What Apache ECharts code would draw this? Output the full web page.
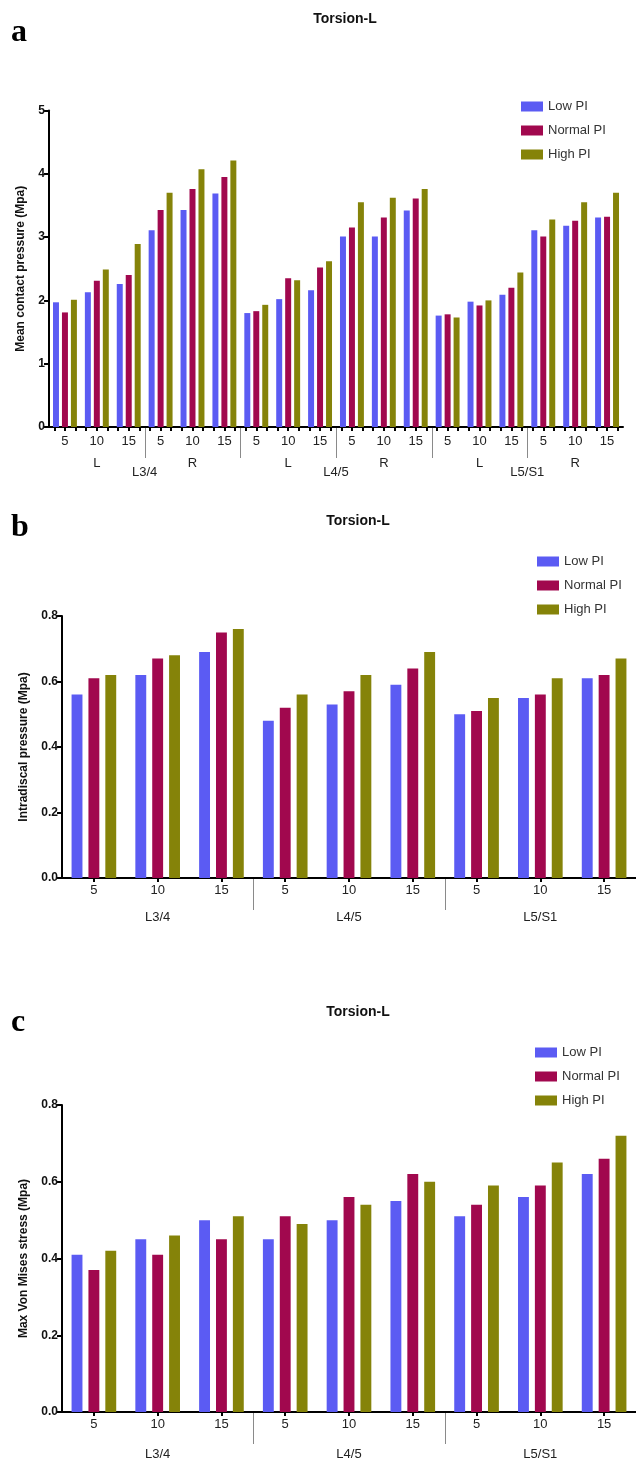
<!DOCTYPE html>
<html>
<head>
<meta charset="utf-8">
<script src="https://cdn.jsdelivr.net/npm/echarts@6/dist/echarts.min.js"></script>
<style>html,body{margin:0;padding:0;background:#fff}#c{width:636px;height:1466px}</style>
</head>
<body>
<div id="c"></div>
<script>
// ---------- data ----------
const levels = ['L3/4', 'L4/5', 'L5/S1'];
const sides = ['L', 'R'];
const angles = ['5', '10', '15'];
const seriesNames = ['Low PI', 'Normal PI', 'High PI'];
const panelTitle = 'Torsion-L';
const panelLetters = ['a', 'b', 'c'];
const yNames = ['Mean contact pressure (Mpa)', 'Intradiscal pressure (Mpa)', 'Max Von Mises stress (Mpa)'];

// panel a: 18 categories (level x side x angle)
const contactLow    = [1.97, 2.13, 2.26, 3.11, 3.43, 3.69, 1.80, 2.02, 2.16, 3.01, 3.01, 3.42, 1.76, 1.98, 2.09, 3.11, 3.18, 3.31];
const contactNormal = [1.81, 2.31, 2.40, 3.43, 3.76, 3.95, 1.83, 2.35, 2.52, 3.15, 3.31, 3.61, 1.78, 1.92, 2.20, 3.01, 3.26, 3.32];
const contactHigh   = [2.01, 2.49, 2.89, 3.70, 4.07, 4.21, 1.93, 2.32, 2.62, 3.55, 3.62, 3.76, 1.73, 2.00, 2.44, 3.28, 3.55, 3.70];

// panel b: 9 categories (level x angle)
const discLow    = [0.56, 0.62, 0.69, 0.48, 0.53, 0.59, 0.50, 0.55, 0.61];
const discNormal = [0.61, 0.67, 0.75, 0.52, 0.57, 0.64, 0.51, 0.56, 0.62];
const discHigh   = [0.62, 0.68, 0.76, 0.56, 0.62, 0.69, 0.55, 0.61, 0.67];

// panel c: 9 categories (level x angle)
const stressLow    = [0.41, 0.45, 0.50, 0.45, 0.50, 0.55, 0.51, 0.56, 0.62];
const stressNormal = [0.37, 0.41, 0.45, 0.51, 0.56, 0.62, 0.54, 0.59, 0.66];
const stressHigh   = [0.42, 0.46, 0.51, 0.49, 0.54, 0.60, 0.59, 0.65, 0.72];

// ---------- styles ----------
const colors = ['#5b5bf3', '#a1084e', '#858309'];
const SANS = '"Liberation Sans", Arial, sans-serif';
const SERIF = '"Liberation Serif", "Times New Roman", serif';

// ---------- categories built from structure ----------
const catA = [];
levels.forEach(l => sides.forEach(s => angles.forEach(a => catA.push(l + '|' + s + '|' + a))));
const sideCatA = [];
levels.forEach(l => sides.forEach(s => sideCatA.push(l + '|' + s)));
const barSlotsA = [];
catA.forEach(c => seriesNames.forEach(n => barSlotsA.push(c + '|' + n)));
const catBC = [];
levels.forEach(l => angles.forEach(a => catBC.push(l + '|' + a)));
const lastPart = v => v.split('|').pop();

const sepA = [];
for (let i = 1; i < sideCatA.length; i++) sepA.push([i * angles.length, 0]);
const sepBC = [];
for (let i = 1; i < levels.length; i++) sepBC.push([i * angles.length, 0]);

// ---------- layout ----------
const grids = [
  { left: 49, width: 574, top: 110.5, height: 316.5 },
  { left: 62, width: 574, top: 616, height: 262 },
  { left: 62, width: 574, top: 1105, height: 307 }
];
const titleY = [7, 509, 1000];
const letterY = [12, 507, 1002];
const legendPos = [
  { left: 516, top: 95 },
  { left: 532, top: 550 },
  { left: 530, top: 1041 }
];

const axisLineStyle = { color: '#000', width: 2 };

function hiddenAxisBase(gridIndex, data) {
  return {
    type: 'category', gridIndex, data, position: 'bottom',
    axisLine: { show: false }, axisTick: { show: false }, splitLine: { show: false }
  };
}

const xAxis = [
  // 0: panel a numbers
  {
    type: 'category', gridIndex: 0, data: catA, position: 'bottom',
    axisLine: { lineStyle: axisLineStyle },
    axisTick: { show: false },
    axisLabel: { formatter: lastPart, fontFamily: SANS, fontSize: 13, color: '#222', margin: 8, interval: 0 }
  },
  // 1: panel a sides
  Object.assign(hiddenAxisBase(0, sideCatA), {
    axisLabel: { formatter: lastPart, fontFamily: SANS, fontSize: 13, color: '#222', margin: 30, interval: 0 }
  }),
  // 2: panel a levels
  Object.assign(hiddenAxisBase(0, levels), {
    axisLabel: { fontFamily: SANS, fontSize: 13, color: '#222', margin: 39, interval: 0 }
  }),
  // 3: panel a per-bar ticks
  Object.assign(hiddenAxisBase(0, barSlotsA), {
    axisTick: { show: true, alignWithLabel: true, interval: 0, length: 4, lineStyle: { color: '#000', width: 2 } },
    axisLabel: { show: false }
  }),
  // 4: panel b numbers
  {
    type: 'category', gridIndex: 1, data: catBC, position: 'bottom',
    axisLine: { lineStyle: axisLineStyle },
    axisTick: { show: true, alignWithLabel: true, length: 4, lineStyle: { color: '#000', width: 2 } },
    axisLabel: { formatter: lastPart, fontFamily: SANS, fontSize: 13, color: '#222', margin: 6, interval: 0 }
  },
  // 5: panel b levels
  Object.assign(hiddenAxisBase(1, levels), {
    axisLabel: { fontFamily: SANS, fontSize: 13, color: '#222', margin: 33, interval: 0 }
  }),
  // 6: panel c numbers
  {
    type: 'category', gridIndex: 2, data: catBC, position: 'bottom',
    axisLine: { lineStyle: axisLineStyle },
    axisTick: { show: true, alignWithLabel: true, length: 4, lineStyle: { color: '#000', width: 2 } },
    axisLabel: { formatter: lastPart, fontFamily: SANS, fontSize: 13, color: '#222', margin: 6, interval: 0 }
  },
  // 7: panel c levels
  Object.assign(hiddenAxisBase(2, levels), {
    axisLabel: { fontFamily: SANS, fontSize: 13, color: '#222', margin: 36, interval: 0 }
  })
];

function yAxisDef(gridIndex, max, interval, name, nameGap, fmt) {
  return {
    type: 'value', gridIndex, min: 0, max, interval,
    name, nameLocation: 'middle', nameRotate: 90, nameGap,
    nameTextStyle: { fontFamily: SANS, fontSize: 12, fontWeight: 'bold', color: '#111' },
    axisLine: { show: true, lineStyle: axisLineStyle },
    axisTick: { show: true, length: 5, lineStyle: { color: '#000', width: 2 } },
    axisLabel: { fontFamily: SANS, fontSize: 12, fontWeight: 'bold', color: '#111', margin: 4, formatter: fmt },
    splitLine: { show: false }
  };
}
const yAxis = [
  yAxisDef(0, 5, 1, yNames[0], 22, v => String(v)),
  yAxisDef(1, 0.8, 0.2, yNames[1], 32, v => v.toFixed(1)),
  yAxisDef(2, 0.8, 0.2, yNames[2], 32, v => v.toFixed(1))
];

function barSeries(name, data, xi, yi, color, catGap, gap) {
  return {
    type: 'bar', name, data, xAxisIndex: xi, yAxisIndex: yi,
    itemStyle: { color }, barCategoryGap: catGap, barGap: gap,
    emphasis: { disabled: true }, animation: false
  };
}
function sepRender(len) {
  return function (params, api) {
    const p = api.coord([api.value(0), 0]);
    const bw = api.size([1, 0])[0];
    const x = Math.round(p[0] - bw / 2) + 0.5;
    return { type: 'line', shape: { x1: x, y1: p[1] + 1, x2: x, y2: p[1] + len }, style: { stroke: '#8a8a8a', lineWidth: 1 } };
  };
}
function sepSeries(data, xi, yi, len) {
  return { type: 'custom', name: 'sep', data, xAxisIndex: xi, yAxisIndex: yi, clip: false, silent: true,
    encode: { x: 0, y: 1 }, renderItem: sepRender(len), animation: false, z: 5 };
}

const panelData = [
  [contactLow, contactNormal, contactHigh],
  [discLow, discNormal, discHigh],
  [stressLow, stressNormal, stressHigh]
];
const barAxisIdx = [0, 4, 6];
const series = [];
panelData.forEach((arrs, p) => {
  arrs.forEach((arr, k) => {
    series.push(barSeries(seriesNames[k], arr, barAxisIdx[p], p, colors[k],
      p === 0 ? '25%' : '30%', p === 0 ? '50%' : '55%'));
  });
});
series.push(sepSeries(sepA, 0, 0, 31));
series.push(sepSeries(sepBC, 4, 1, 32));
series.push(sepSeries(sepBC, 6, 2, 32));

const title = [];
const titleX = [340, 353, 353];
for (let p = 0; p < 3; p++) {
  title.push({ text: panelTitle, left: titleX[p], top: titleY[p], textAlign: 'center',
    textStyle: { fontFamily: SANS, fontSize: 14, fontWeight: 'bold', color: '#111' } });
  title.push({ text: panelLetters[p], left: 6, top: letterY[p],
    textStyle: { fontFamily: SERIF, fontSize: 32, fontWeight: 'bold', color: '#000' } });
}

const legend = legendPos.map(pos => ({
  data: seriesNames, orient: 'vertical', left: pos.left, top: pos.top,
  itemWidth: 22, itemHeight: 10, itemGap: 11, selectedMode: false,
  icon: 'rect',
  textStyle: { fontFamily: SANS, fontSize: 13, color: '#333' }
}));

const chart = echarts.init(document.getElementById('c'), null, { renderer: 'canvas' });
chart.setOption({
  backgroundColor: '#fff',
  animation: false,
  title, legend,
  grid: grids,
  xAxis, yAxis, series
});
</script>
</body>
</html>
